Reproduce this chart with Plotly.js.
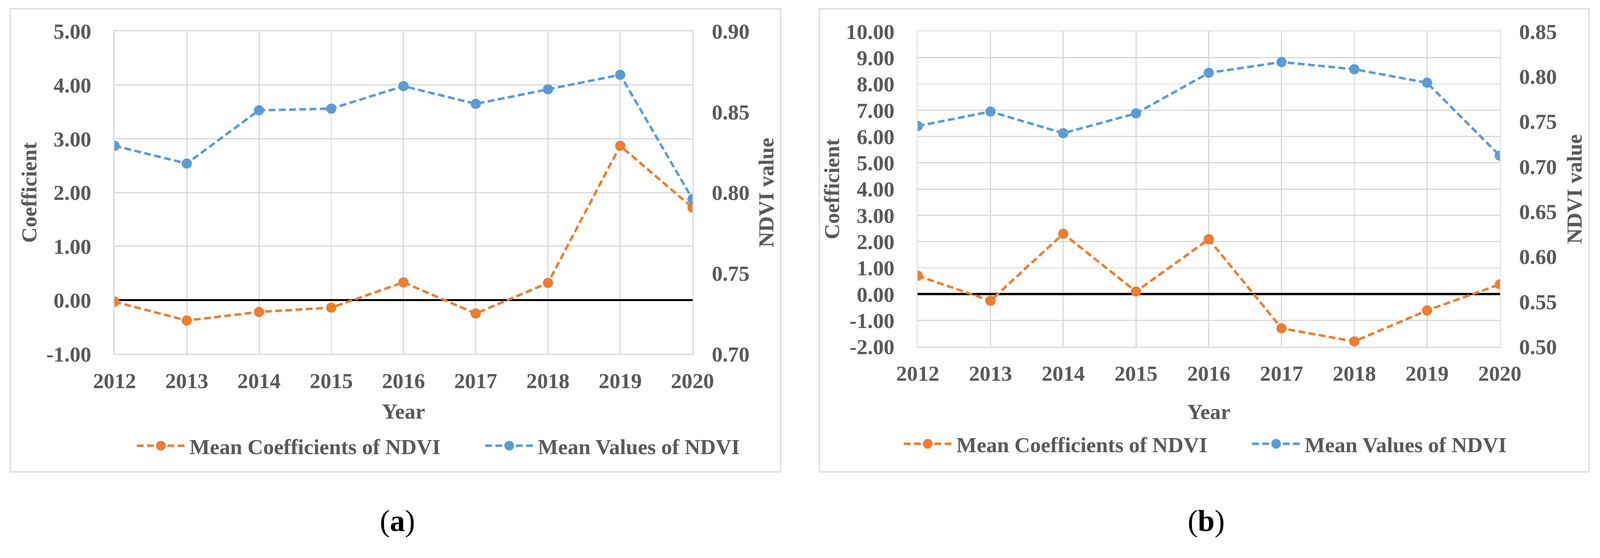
<!DOCTYPE html>
<html>
<head>
<meta charset="utf-8">
<script src="https://cdn.plot.ly/plotly-3.0.1.min.js"></script>
<style>
html,body{margin:0;padding:0;background:#ffffff;overflow:hidden;}
#chart{width:4226px;height:1429px;transform-origin:0 0;}
</style>
</head>
<body>
<div id="chart"></div>
<script>
// ---- data ----
const years = [2012, 2013, 2014, 2015, 2016, 2017, 2018, 2019, 2020];
const coefA = [-0.03, -0.38, -0.22, -0.14, 0.33, -0.25, 0.32, 2.87, 1.72];
const ndviA = [0.829, 0.818, 0.851, 0.852, 0.866, 0.855, 0.864, 0.873, 0.796];
const coefB = [0.70, -0.25, 2.30, 0.10, 2.09, -1.30, -1.80, -0.62, 0.37];
const ndviB = [0.745, 0.761, 0.737, 0.759, 0.804, 0.816, 0.808, 0.793, 0.712];
const coefTicksA = [-1, 0, 1, 2, 3, 4, 5];
const ndviTicksA = [0.70, 0.75, 0.80, 0.85, 0.90];
const coefTicksB = [-2, -1, 0, 1, 2, 3, 4, 5, 6, 7, 8, 9, 10];
const ndviTicksB = [0.50, 0.55, 0.60, 0.65, 0.70, 0.75, 0.80, 0.85];
const seriesNames = ['Mean Coefficients of NDVI', 'Mean Values of NDVI'];
const xTitle = 'Year';
const yLeftTitle = 'Coefficient';
const yRightTitle = 'NDVI value';
const captions = ['(<b>a</b>)', '(<b>b</b>)'];

// ---- styles ----
const W = 4226, H = 1429;
const ORANGE = '#ED7D31', BLUE = '#5B9BD5', GRAY = '#595959', GRID = '#D9D9D9';
const FONT = 'Liberation Serif, Times New Roman, serif';
const tickFont = {family: FONT, size: 57, color: GRAY, weight: 'bold'};
const titleFont = {family: FONT, size: 57, color: GRAY, weight: 'bold'};
const fmt = v => v.toFixed(2);
const px = x => x / W;
const py = y => 1 - y / H;

// fit the fixed-size chart into the actual viewport
(function () {
  const vw = window.innerWidth || document.documentElement.clientWidth || W;
  const vh = window.innerHeight || document.documentElement.clientHeight || H;
  const s = Math.min(vw / W, vh / H);
  if (s > 0 && Math.abs(s - 1) > 0.001) {
    document.getElementById('chart').style.transform = 'scale(' + s + ')';
  }
})();

function line(color, x, y, xa, ya, name, legend) {
  return {
    type: 'scatter', mode: 'lines+markers', x: x, y: y, xaxis: xa, yaxis: ya,
    name: name, legend: legend, showlegend: true,
    line: {color: color, width: 6.5, dash: '18px,9px'},
    marker: {color: color, size: 27, symbol: 'circle'},
    hoverinfo: 'x+y'
  };
}

const data = [
  line(ORANGE, years, coefA, 'x', 'y', seriesNames[0], 'legend'),
  line(BLUE, years, ndviA, 'x', 'y2', seriesNames[1], 'legend'),
  line(ORANGE, years, coefB, 'x2', 'y3', seriesNames[0], 'legend2'),
  line(BLUE, years, ndviB, 'x2', 'y4', seriesNames[1], 'legend2')
];

function xAxis(domain, anchor, standoff) {
  return {
    domain: domain, anchor: anchor, type: 'linear',
    range: [years[0], years[years.length - 1]],
    tickvals: years, ticktext: years.map(String),
    showgrid: true, gridcolor: GRID, gridwidth: 3,
    showline: true, linecolor: GRID, linewidth: 3, mirror: true,
    zeroline: false, ticks: '', tickfont: tickFont, ticklabelstandoff: 19,
    layer: 'below traces', fixedrange: true,
    title: {text: xTitle, font: titleFont, standoff: standoff}
  };
}
function yLeft(domain, anchor, ticks, standoff) {
  return {
    domain: domain, anchor: anchor, type: 'linear',
    range: [ticks[0], ticks[ticks.length - 1]],
    tickvals: ticks, ticktext: ticks.map(fmt),
    showgrid: true, gridcolor: GRID, gridwidth: 3,
    showline: true, linecolor: GRID, linewidth: 3, mirror: true,
    zeroline: true, zerolinecolor: '#000000', zerolinewidth: 6,
    ticks: '', tickfont: tickFont, ticklabelstandoff: 47,
    layer: 'below traces', fixedrange: true,
    title: {text: yLeftTitle, font: titleFont, standoff: standoff}
  };
}
function yRight(overlay, anchor, ticks, standoff) {
  return {
    overlaying: overlay, anchor: anchor, side: 'right', type: 'linear',
    range: [ticks[0], ticks[ticks.length - 1]],
    tickvals: ticks, ticktext: ticks.map(fmt),
    showgrid: false, showline: false, zeroline: false,
    ticks: '', tickfont: tickFont, ticklabelstandoff: 50,
    layer: 'below traces', fixedrange: true,
    title: {text: yRightTitle, font: titleFont, standoff: standoff}
  };
}

const legendBase = {
  orientation: 'h', xanchor: 'left', yanchor: 'middle',
  font: {family: FONT, size: 57, color: GRAY, weight: 'bold'},
  bgcolor: 'rgba(0,0,0,0)', borderwidth: 0,
  itemwidth: 130, entrywidth: 775, entrywidthmode: 'pixels',
  traceorder: 'normal', itemclick: false, itemdoubleclick: false
};

const layout = {
  width: W, height: H,
  margin: {l: 0, r: 0, t: 0, b: 0, pad: 0},
  paper_bgcolor: '#ffffff', plot_bgcolor: '#ffffff',
  showlegend: true,
  xaxis: xAxis([px(303), px(1832)], 'y', 30),
  yaxis: yLeft([py(935), py(82.6)], 'x', coefTicksA, 8),
  yaxis2: yRight('y', 'x', ndviTicksA, 24),
  xaxis2: xAxis([px(2428), px(3968)], 'y3', 50),
  yaxis3: yLeft([py(916), py(83)], 'x2', coefTicksB, 0),
  yaxis4: yRight('y3', 'x2', ndviTicksB, 26),
  legend: Object.assign({}, legendBase, {x: px(361), y: py(1178)}),
  legend2: Object.assign({}, legendBase, {x: px(2390), y: py(1173)}),
  shapes: [
    {type: 'rect', xref: 'paper', yref: 'paper', x0: px(27), x1: px(2065), y0: py(1247), y1: py(23),
     line: {color: GRID, width: 3}, fillcolor: 'rgba(0,0,0,0)', layer: 'below'},
    {type: 'rect', xref: 'paper', yref: 'paper', x0: px(2168), x1: px(4204), y0: py(1247), y1: py(23),
     line: {color: GRID, width: 3}, fillcolor: 'rgba(0,0,0,0)', layer: 'below'}
  ],
  annotations: [
    {xref: 'paper', yref: 'paper', x: px(1051), y: py(1376), xanchor: 'center', yanchor: 'middle',
     text: captions[0], showarrow: false, font: {family: FONT, size: 80, color: '#000000'}},
    {xref: 'paper', yref: 'paper', x: px(3191), y: py(1376), xanchor: 'center', yanchor: 'middle',
     text: captions[1], showarrow: false, font: {family: FONT, size: 80, color: '#000000'}}
  ]
};

function stretchLegendSymbols(gd) {
  // lengthen the legend line samples (both legends) to match the reference
  gd.querySelectorAll('g.traces').forEach(function (t) {
    t.querySelectorAll('.legendlines path').forEach(function (p) { p.setAttribute('d', 'M1,0h127'); });
    t.querySelectorAll('path.scatterpts').forEach(function (p) {
      p.setAttribute('transform', 'translate(64.5,0) scale(1.6)');
    });
  });
}

Plotly.newPlot('chart', data, layout, {displayModeBar: false, responsive: false})
  .then(function (gd) {
    stretchLegendSymbols(gd);
    requestAnimationFrame(function () { stretchLegendSymbols(gd); });
  });
</script>
</body>
</html>
